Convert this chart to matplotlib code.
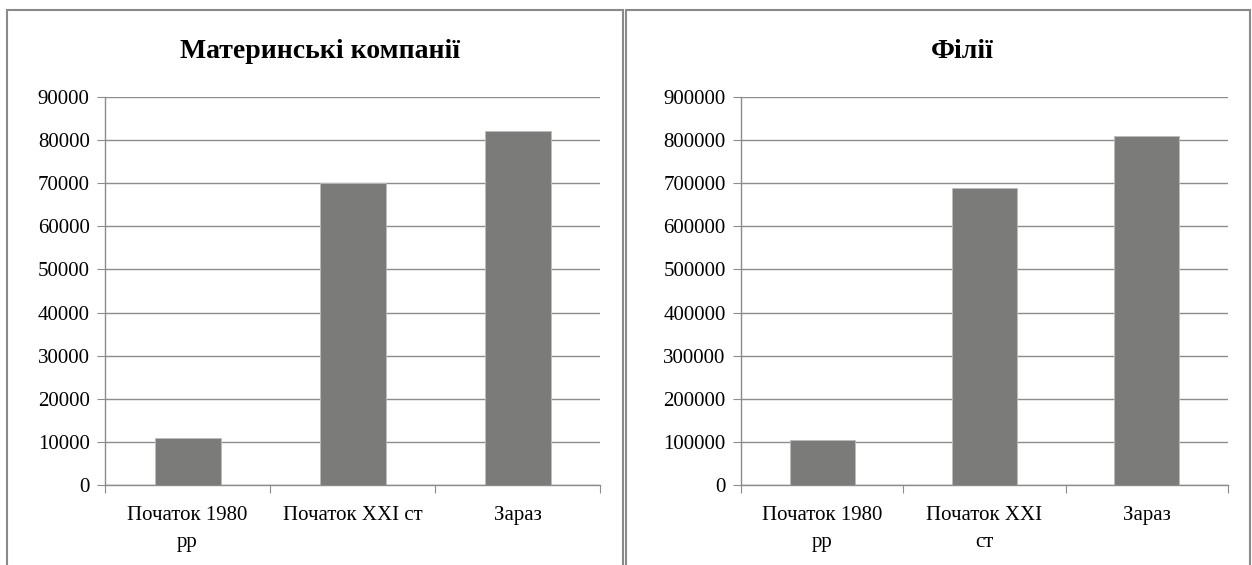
import numpy as np
import matplotlib
matplotlib.use('Agg')
import matplotlib.pyplot as plt
from matplotlib.patches import Rectangle

# дані
labels_left = ["Початок 1980\nрр", "Початок XXI ст", "Зараз"]
labels_right = ["Початок 1980\nрр", "Початок XXI\nст", "Зараз"]
parents = [11000, 70000, 82000]
affiliates = [105000, 690000, 810000]
title_left = "Материнські компанії"
title_right = "Філії"

BAR = '#7b7b79'
GRID = '#8c8c8c'
plt.rcParams['font.family'] = ['Liberation Serif', 'DejaVu Serif']

fig = plt.figure(figsize=(12.52, 5.65), dpi=100)
fig.patch.set_facecolor('white')

W, H = 1252, 565

# рамки панелей
for x0, x1 in [(7, 623), (626, 1250)]:
    fig.add_artist(Rectangle((x0 / W, -0.1), (x1 - x0) / W, 1.1 - 10 / H,
                             transform=fig.transFigure, fill=False,
                             edgecolor='#8a8a8a', linewidth=1.5))


def panel(ax, labels, values, ymax, step, title, cx):
    x = np.arange(len(values))
    ax.bar(x, values, width=0.4, color=BAR, edgecolor='#bdbdbd', linewidth=0.6, zorder=3)
    ax.set_xlim(-0.5, len(values) - 0.5)
    ax.set_ylim(0, ymax)
    ax.set_yticks(np.arange(0, ymax + 1, step))
    ax.yaxis.grid(True, color=GRID, linewidth=1.0, zorder=0)
    ax.set_axisbelow(True)
    for s in ['top', 'right']:
        ax.spines[s].set_visible(False)
    for s in ['left', 'bottom']:
        ax.spines[s].set_color(GRID)
        ax.spines[s].set_linewidth(1.0)
    # риски між категоріями
    ax.set_xticks(np.arange(-0.5, len(values), 1.0), minor=False)
    ax.set_xticklabels([])
    ax.set_xticks(x, minor=True)
    ax.set_xticklabels(labels, minor=True, fontsize=15, linespacing=1.55)
    ax.tick_params(axis='x', which='major', length=6, color=GRID, direction='out')
    ax.tick_params(axis='x', which='minor', length=0, pad=15)
    ax.tick_params(axis='y', length=6, color=GRID, labelsize=15, pad=5)
    fig.text(cx / W, 1 - 52 / H, title, ha='center', va='center',
             fontsize=20, fontweight='bold')


ax1 = fig.add_axes([105 / W, 1 - 485 / H, 495 / W, 388 / H])
panel(ax1, labels_left, parents, 90000, 10000, title_left, 320)

ax2 = fig.add_axes([741 / W, 1 - 485 / H, 487 / W, 388 / H])
panel(ax2, labels_right, affiliates, 900000, 100000, title_right, 962)

fig.savefig('out.png', dpi=100, facecolor='white')
